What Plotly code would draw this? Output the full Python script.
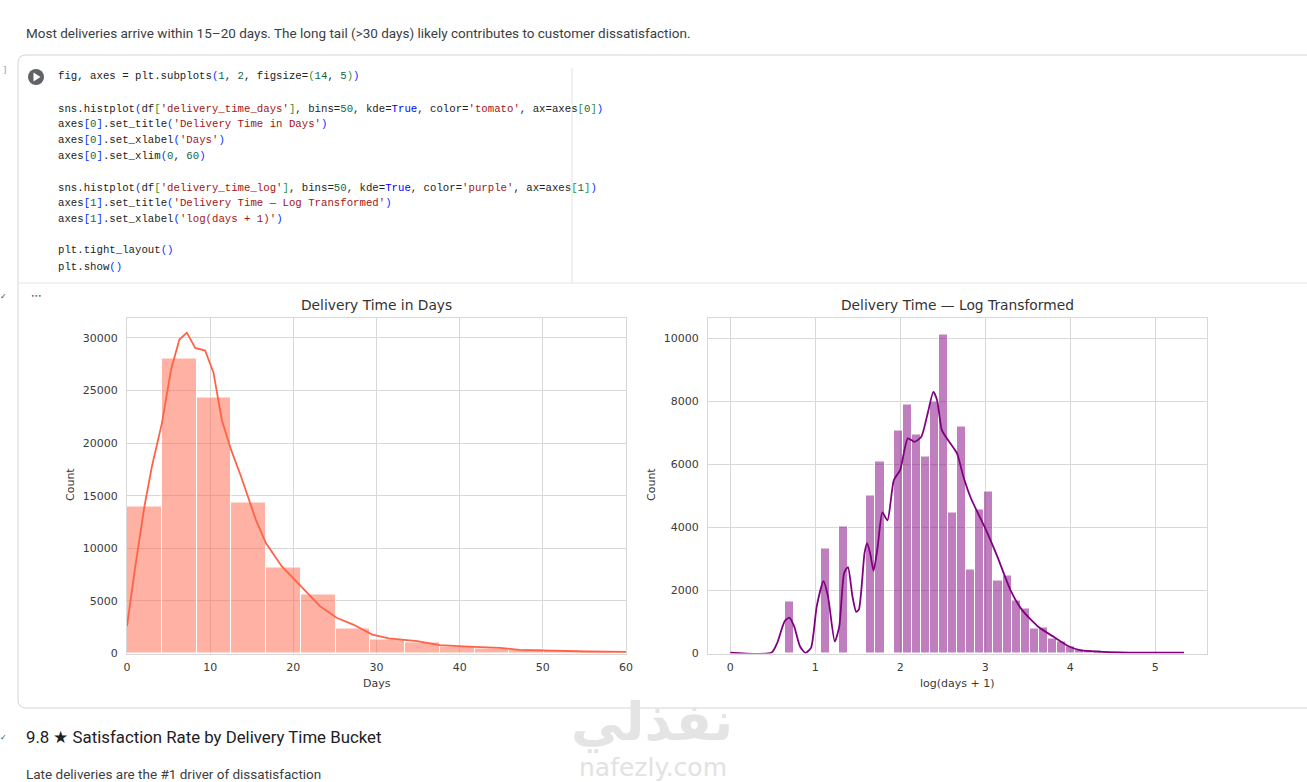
import plotly.graph_objects as go
from plotly.subplots import make_subplots

W, H = 1307, 782

# left histogram, days (bin width about 4.18 days)
days_bin_width = 4.18
days_counts = [14000, 28050, 24350, 14350, 8200, 5650, 2350, 1350, 1000, 700, 520, 400, 280, 170, 120]
days_kde_x = [0, 1, 2.1, 3, 4.2, 5.3, 6.3, 7.2, 8.2, 9.4, 10.4, 11.4, 12.5, 13.7, 15.5, 16.7, 18.6, 20.9,
              23.2, 25.2, 27.2, 29.5, 31.5, 34.9, 37.6, 41.7, 44.9, 47.2, 50.3, 55.3, 60]
days_kde_y = [2600, 8300, 14000, 17800, 21900, 27000, 29850, 30500, 29050, 28800, 26700, 22200, 19400, 16850,
              12700, 10500, 8300, 6400, 4500, 3400, 2750, 1800, 1430, 1170, 800, 630, 540, 350, 285, 190, 160]

# right histogram, log(days + 1), 50 bins
log_bin_width = 0.1068
log_counts = [0, 0, 0, 0, 0, 0, 1650, 0, 0, 0, 3330, 0, 4030, 0, 0, 5020, 6090, 0, 7080, 7900,
              6950, 6250, 8000, 10120, 4480, 7200, 2650, 4580, 5140, 2300, 2480, 1680, 1420, 790, 810, 480, 380, 210, 130, 100,
              80, 50, 30, 20, 10, 8, 5, 4, 3, 2]
log_kde_x = [0, 0.487, 0.553, 0.64, 0.695, 0.752, 0.82, 0.885, 0.95, 1.018, 1.097, 1.15, 1.23, 1.283, 1.34, 1.385,
             1.438, 1.482, 1.513, 1.58, 1.61, 1.646, 1.686, 1.735, 1.79, 1.85, 1.925, 2.0, 2.09, 2.168, 2.248, 2.323,
             2.39, 2.434, 2.49, 2.566, 2.668, 2.743, 2.832, 3.009, 3.142, 3.296, 3.43, 3.628, 3.805, 3.982, 4.115,
             4.38, 4.69, 5.34]
log_kde_y = [30, 30, 340, 1020, 1140, 860, 230, 20, 180, 1500, 2290, 1810, 380, 860, 2550, 2740,
             1810, 1320, 1390, 3180, 3500, 3180, 2620, 3390, 4470, 4220, 5500, 5820, 6820, 6710, 6870, 7610,
             8290, 8030, 7080, 6750, 6340, 5610, 4920, 3920, 3080, 2020, 1390, 840, 530, 230, 105,
             50, 30, 30]

days_ticks = [0, 10, 20, 30, 40, 50, 60]
days_yticks = [0, 5000, 10000, 15000, 20000, 25000, 30000]
log_ticks = [0, 1, 2, 3, 4, 5]
log_yticks = [0, 2000, 4000, 6000, 8000, 10000]

# notebook text
BLUE, GREEN, RED, NUM, KW = "#0431fa", "#319331", "#a31515", "#116644", "#0000ff"


def c(txt, col):
    return f'<span style="color:{col}">{txt}</span>'


code_lines = [
    (76.5, "fig, axes = plt.subplots" + c("(", BLUE) + c("1", NUM) + ", " + c("2", NUM) + ", figsize=" + c("(", GREEN)
     + c("14", NUM) + ", " + c("5", NUM) + c(")", GREEN) + c(")", BLUE)),
    (108.5, "sns.histplot" + c("(", BLUE) + "df" + c("[", GREEN) + c("'delivery_time_days'", RED) + c("]", GREEN)
     + ", bins=" + c("50", NUM) + ", kde=" + c("True", KW) + ", color=" + c("'tomato'", RED) + ", ax=axes"
     + c("[", GREEN) + c("0", NUM) + c("]", GREEN) + c(")", BLUE)),
    (124.5, "axes" + c("[", BLUE) + c("0", NUM) + c("]", BLUE) + ".set_title" + c("(", BLUE) + c("'Delivery Time in Days'", RED) + c(")", BLUE)),
    (139.5, "axes" + c("[", BLUE) + c("0", NUM) + c("]", BLUE) + ".set_xlabel" + c("(", BLUE) + c("'Days'", RED) + c(")", BLUE)),
    (155.5, "axes" + c("[", BLUE) + c("0", NUM) + c("]", BLUE) + ".set_xlim" + c("(", BLUE) + c("0", NUM) + ", " + c("60", NUM) + c(")", BLUE)),
    (187.5, "sns.histplot" + c("(", BLUE) + "df" + c("[", GREEN) + c("'delivery_time_log'", RED) + c("]", GREEN)
     + ", bins=" + c("50", NUM) + ", kde=" + c("True", KW) + ", color=" + c("'purple'", RED) + ", ax=axes"
     + c("[", GREEN) + c("1", NUM) + c("]", GREEN) + c(")", BLUE)),
    (203.5, "axes" + c("[", BLUE) + c("1", NUM) + c("]", BLUE) + ".set_title" + c("(", BLUE) + c("'Delivery Time — Log Transformed'", RED) + c(")", BLUE)),
    (219.5, "axes" + c("[", BLUE) + c("1", NUM) + c("]", BLUE) + ".set_xlabel" + c("(", BLUE) + c("'log(days + 1)'", RED) + c(")", BLUE)),
    (250.5, "plt.tight_layout" + c("()", BLUE)),
    (266.5, "plt.show" + c("()", BLUE)),
]


def px(x):
    return x / W


def py(y):
    return 1 - y / H


def note(x, y, text, size=13, color="#3c4043", family="Roboto", xanchor="left", **kw):
    return dict(x=px(x), y=py(y), xref="paper", yref="paper", text=text, showarrow=False, xanchor=xanchor,
                yanchor="middle", font=dict(family=family, size=size, color=color), **kw)


fig = make_subplots(rows=1, cols=2)

fig.add_trace(go.Bar(x=[i * days_bin_width for i in range(len(days_counts))], y=days_counts,
                     width=days_bin_width, offset=0, marker=dict(color="rgba(255,99,71,0.5)", line=dict(color="white", width=1))),
              row=1, col=1)
fig.add_trace(go.Scatter(x=days_kde_x, y=days_kde_y, mode="lines", line=dict(color="#ff6347", width=1.8)), row=1, col=1)

fig.add_trace(go.Bar(x=[i * log_bin_width for i in range(len(log_counts))], y=log_counts,
                     width=log_bin_width, offset=0, marker=dict(color="rgba(128,0,128,0.5)", line=dict(color="white", width=1))),
              row=1, col=2)
fig.add_trace(go.Scatter(x=log_kde_x, y=log_kde_y, mode="lines", line=dict(color="#800080", width=1.8, shape="spline", smoothing=0.6)),
              row=1, col=2)

axis_style = dict(showgrid=True, gridcolor="#d8d8d8", gridwidth=1.2, showline=True, linecolor="#d8d8d8", linewidth=1.2, mirror=True,
                  zeroline=False, ticks="outside", tickcolor="rgba(0,0,0,0)", tickformat="d", automargin=False,
                  tickfont=dict(family="DejaVu Sans", size=11, color="#3a3a3a"), layer="below traces")

fig.update_xaxes(axis_style, ticklen=3)
fig.update_yaxes(axis_style, ticklen=6)
fig.update_xaxes(domain=[px(127), px(626)], range=[0, 60], tickvals=days_ticks, row=1, col=1)
fig.update_yaxes(domain=[py(653.5), py(317.5)], range=[0, 31940], tickvals=days_yticks, row=1, col=1)
fig.update_xaxes(domain=[px(708), px(1207)], range=[-0.262, 5.61], tickvals=log_ticks, row=1, col=2)
fig.update_yaxes(domain=[py(653.5), py(317.5)], range=[0, 10650], tickvals=log_yticks, row=1, col=2)

annotations = [
    note(24, 33, "Most deliveries arrive within 15–20 days. The long tail (&gt;30 days) likely contributes to customer dissatisfaction.", size=13.5),
    note(376.5, 305, "Delivery Time in Days", size=13.8, color="#333333", family="DejaVu Sans", xanchor="center"),
    note(957.5, 305, "Delivery Time — Log Transformed", size=13.8, color="#333333", family="DejaVu Sans", xanchor="center"),
    note(376.5, 683, "Days", size=11, color="#3a3a3a", family="DejaVu Sans", xanchor="center"),
    note(957.5, 683, "log(days + 1)", size=11, color="#3a3a3a", family="DejaVu Sans", xanchor="center"),
    note(71, 485, "Count", size=11, color="#3a3a3a", family="DejaVu Sans", xanchor="center", textangle=-90),
    note(652, 485, "Count", size=11, color="#3a3a3a", family="DejaVu Sans", xanchor="center", textangle=-90),
    note(24, 737, "9.8 ★ Satisfaction Rate by Delivery Time Bucket", size=16.8, color="#202124"),
    note(24, 774, "Late deliveries are the #1 driver of dissatisfaction", size=13.5),
    note(36, 295, "•••", size=6, color="#555555", family="DejaVu Sans", xanchor="center"),
    note(5, 70, "]", size=9, color="#9aa0a6", family="DejaVu Sans", xanchor="center"),
    note(3, 296, "✓", size=8, color="#444444", family="DejaVu Sans", xanchor="center"),
    note(3, 737, "✓", size=8, color="#444444", family="DejaVu Sans", xanchor="center"),
    note(652, 722, "<b>نفذلي</b>", size=53, color="#e4e4e4", family="DejaVu Sans", xanchor="center"),
    note(653, 767, "nafezly.com", size=25, color="#e2e2e2", family="DejaVu Sans", xanchor="center"),
]
for y, line in code_lines:
    annotations.append(note(56, y, line, size=10.7, color="#222222", family="Liberation Mono"))

l, t, b = px(18), py(55), py(708)
rx, ry = 8 / W, 8 / H
shapes = [
    # cell frame
    dict(type="path", xref="paper", yref="paper", line=dict(color="#d5d5d5", width=1),
         path=f"M {px(1310)} {t} L {l + rx} {t} Q {l} {t} {l} {t - ry} L {l} {b + ry} Q {l} {b} {l + rx} {b} L {px(1310)} {b}"),
    dict(type="line", xref="paper", yref="paper", x0=l, x1=px(1307), y0=py(283), y1=py(283), line=dict(color="#e3e3e3", width=1)),
    dict(type="line", xref="paper", yref="paper", x0=px(572), x1=px(572), y0=py(68), y1=py(283), line=dict(color="#e3e3e3", width=1)),
    # run button
    dict(type="circle", xref="paper", yref="paper", x0=px(28), x1=px(44), y0=py(69), y1=py(85), fillcolor="#5f6368", line=dict(width=0)),
    dict(type="path", xref="paper", yref="paper", fillcolor="white", line=dict(width=0),
         path=f"M {px(33.5)} {py(72.5)} L {px(40.5)} {py(77)} L {px(33.5)} {py(81.5)} Z"),
]

fig.update_layout(width=W, height=H, margin=dict(l=0, r=0, t=0, b=0, autoexpand=False), paper_bgcolor="white", plot_bgcolor="white",
                  showlegend=False, bargap=0, barmode="overlay", annotations=annotations, shapes=shapes)

fig.write_html("out.html", config=dict(displayModeBar=False),
               post_script="document.body.style.margin='0';document.body.style.overflow='hidden';")
